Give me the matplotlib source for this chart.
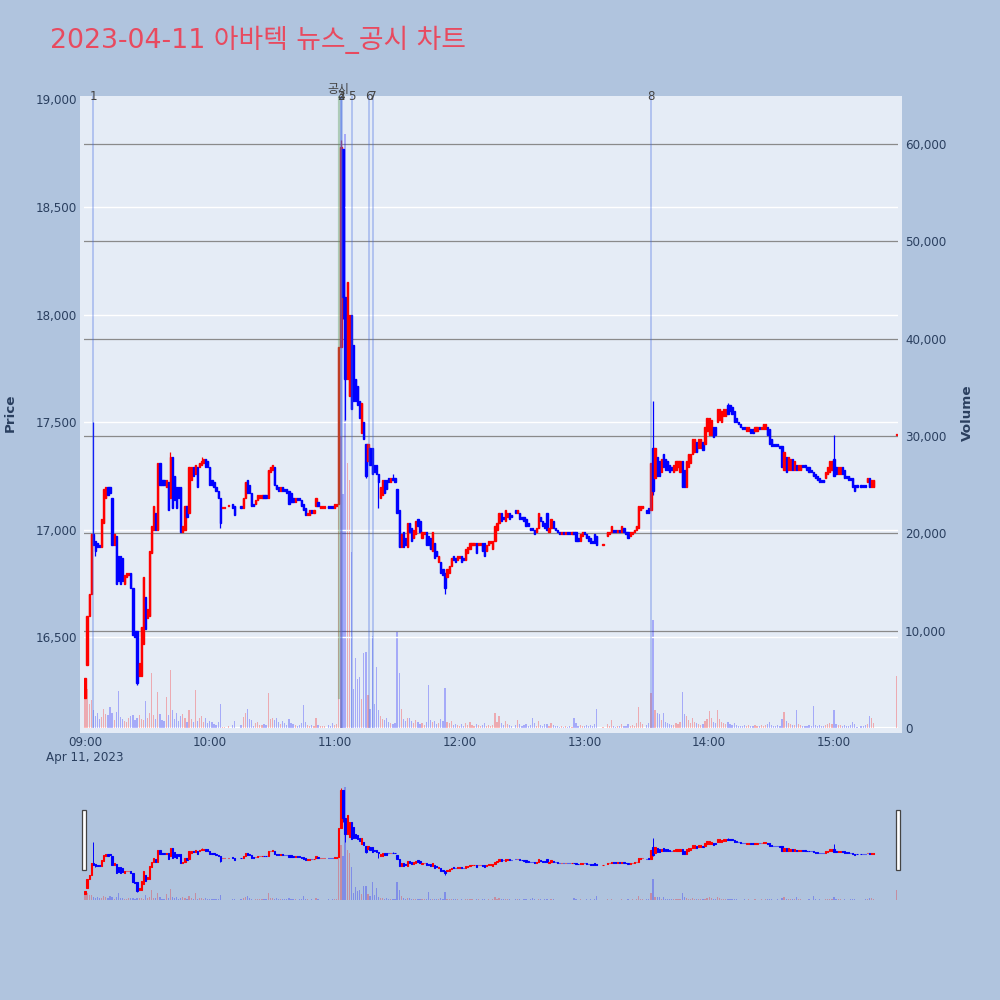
import matplotlib
matplotlib.use("Agg")
import matplotlib.pyplot as plt
from matplotlib.patches import Rectangle

plt.rcParams['font.family'] = ['DejaVu Sans', 'Noto Sans CJK KR']

title = "2023-04-11 아바텍 뉴스_공시 차트"
time_labels = ["09:00", "10:00", "11:00", "12:00", "13:00", "14:00", "15:00"]
price_ticks = [16500, 17000, 17500, 18000, 18500, 19000]
volume_ticks = [0, 10000, 20000, 30000, 40000, 50000, 60000]

# one entry per minute from 09:00 (index 0) to 15:30 (index 390), None = no trade
opens = [
    16220, 16370, 16600, 16700, 16980, 16950, 16940, 16930, 16920, 17030,
    17150, 17200, 17200, 17150, 16930, 16970, 16880, 16880, 16870, 16750,
    16780, 16790, 16800, 16730, 16530, 16530, 16320, 16320, 16470, 16690,
    16590, 16600, 16890, 17000, 17080, 17000, 17310, 17230, 17230, 17200,
    17220, 17150, 17340, 17250, 17200, 17200, 17200, 16990, 17000, 17110,
    17080, 17230, 17290, 17260, 17290, 17290, 17300, 17310, 17330, 17320,
    17290, 17230, 17220, 17200, 17180, 17150, 17100, 17100, None, 17110,
    None, 17120, 17110, None, None, 17110, 17100, 17150, 17230, 17210,
    17170, 17120, 17120, 17140, 17150, 17150, 17160, 17160, 17150, 17270,
    17280, 17290, 17210, 17200, 17180, 17200, 17190, 17190, 17180, 17170,
    17150, 17130, 17150, 17150, 17140, 17120, 17100, 17070, 17070, 17090,
    17080, 17110, 17130, 17100, 17100, 17100, None, 17110, 17110, 17110,
    17100, 17110, 17120, 17850, 18770, 18080, 17700, 17620, 18000, 17860,
    17700, 17670, 17600, 17450, 17500, 17400, 17320, 17380, 17380, 17300,
    17300, 17260, 17150, 17160, 17230, 17230, 17240, 17220, 17240, 17240,
    17190, 17090, 16920, 16990, 16960, 16920, 17030, 17010, 16960, 16980,
    17050, 17040, 16960, 16980, 16990, 16970, 16960, 16900, 16940, 16900,
    16850, 16850, 16820, 16800, 16780, 16800, 16830, 16880, 16870, 16860,
    16870, 16880, 16870, 16860, 16890, 16910, 16930, 16930, 16940, 16930,
    16930, 16940, 16940, 16900, 16930, 16940, 16910, 16950, 17000, 17030,
    17080, 17060, 17040, 17060, 17080, 17070, None, 17090, 17080, 17080,
    17060, 17060, 17050, 17030, 17010, 17010, 17000, 16990, 17010, 17060,
    17040, 17030, 17080, 16990, 17010, 17040, 17010, 17000, 16990, 16980,
    16990, 16980, 16990, 16990, 16980, 16990, 16990, 16960, 16950, 16970,
    16990, 16980, 16970, 16960, 16950, 16980, 16970, None, None, 16930,
    None, 16970, 16980, 16990, 17000, 17000, 16990, 17000, 16990, 17010,
    16990, 16990, 16970, 16980, 16990, 17000, 17010, 17090, 17100, None,
    17090, 17100, 17090, 17380, 17240, 17340, 17320, 17270, 17350, 17330,
    17320, 17300, 17290, 17270, 17280, 17290, 17270, 17320, 17280, 17200,
    17290, 17310, 17350, 17360, 17410, 17380, 17380, 17410, 17400, 17460,
    17440, 17440, 17480, 17480, 17500, 17510, 17500, 17530, 17530, 17580,
    17580, 17570, 17550, 17520, 17500, 17490, 17480, 17480, 17460, 17460,
    17470, 17470, 17460, 17460, 17480, 17470, 17470, 17470, 17480, 17470,
    17420, 17400, 17400, 17400, 17390, 17390, 17280, 17340, 17280, 17280,
    17330, 17280, 17300, 17280, 17280, 17300, 17300, 17290, 17290, 17280,
    17270, 17260, 17250, 17240, 17230, 17230, 17240, 17260, 17270, 17280,
    17330, 17290, 17260, 17260, 17290, 17280, 17250, 17250, 17240, 17240,
    17210, 17210, None, 17210, 17210, 17210, 17220, 17240, 17200, 17200,
    None, None, None, None, None, None, None, None, None, None,
    17440,
]
closes = [
    16310, 16600, 16700, 16980, 16930, 16900, 16920, 16920, 17050, 17190,
    17200, 17160, 17170, 16930, 16980, 16750, 16760, 16750, 16760, 16790,
    16800, 16800, 16730, 16510, 16500, 16290, 16380, 16550, 16780, 16540,
    16630, 16900, 17020, 17110, 17000, 17310, 17210, 17210, 17210, 17230,
    17090, 17340, 17100, 17140, 17100, 17150, 16990, 17020, 17110, 17060,
    17290, 17290, 17250, 17300, 17200, 17310, 17320, 17330, 17290, 17290,
    17210, 17210, 17200, 17180, 17150, 17030, 17100, 17100, None, 17110,
    None, 17100, 17070, None, None, 17100, 17150, 17220, 17170, 17170,
    17110, 17110, 17140, 17160, 17160, 17160, 17150, 17150, 17280, 17290,
    17300, 17210, 17190, 17180, 17200, 17180, 17180, 17170, 17120, 17130,
    17130, 17150, 17140, 17140, 17110, 17090, 17070, 17080, 17090, 17080,
    17090, 17150, 17110, 17110, 17110, 17110, None, 17100, 17100, 17100,
    17120, 17120, 17850, 18780, 18080, 17700, 18150, 18000, 17560, 17600,
    17600, 17580, 17520, 17590, 17420, 17250, 17400, 17300, 17260, 17270,
    17260, 17220, 17200, 17230, 17170, 17190, 17220, 17240, 17230, 17220,
    17080, 16920, 16980, 16920, 16930, 17030, 16990, 16950, 17000, 17040,
    17020, 16990, 16990, 16990, 16930, 16930, 16910, 16990, 16870, 16880,
    16880, 16800, 16790, 16730, 16820, 16830, 16870, 16860, 16850, 16880,
    16880, 16850, 16860, 16910, 16920, 16940, 16940, 16940, 16890, 16940,
    16940, 16900, 16880, 16930, 16950, 16950, 16950, 17020, 17030, 17080,
    17040, 17050, 17090, 17080, 17050, 17060, None, 17080, 17090, 17050,
    17050, 17040, 17020, 17020, 17000, 17000, 16980, 17010, 17080, 17040,
    17020, 17010, 17000, 17010, 17050, 17010, 17000, 16990, 16980, 16990,
    16980, 16990, 16980, 16980, 16990, 16980, 16950, 16950, 16980, 16990,
    16980, 16960, 16950, 16940, 16940, 16940, 16930, None, None, 16930,
    None, 16990, 16990, 17020, 16990, 16990, 17000, 16990, 17020, 16990,
    16980, 16960, 16990, 16990, 17000, 17020, 17110, 17110, 17110, None,
    17080, 17080, 17310, 17180, 17380, 17250, 17250, 17330, 17290, 17280,
    17280, 17270, 17280, 17300, 17320, 17320, 17320, 17200, 17200, 17320,
    17350, 17350, 17420, 17420, 17360, 17420, 17420, 17370, 17480, 17520,
    17520, 17510, 17430, 17440, 17560, 17560, 17550, 17560, 17560, 17540,
    17550, 17540, 17500, 17500, 17490, 17480, 17470, 17470, 17480, 17480,
    17450, 17450, 17480, 17480, 17470, 17480, 17490, 17490, 17440, 17400,
    17390, 17390, 17390, 17390, 17380, 17290, 17360, 17270, 17340, 17330,
    17280, 17320, 17280, 17300, 17300, 17290, 17290, 17280, 17270, 17270,
    17250, 17240, 17230, 17220, 17220, 17220, 17270, 17290, 17320, 17320,
    17250, 17260, 17290, 17290, 17260, 17240, 17240, 17230, 17230, 17200,
    17180, 17200, None, 17200, 17200, 17200, 17240, 17200, 17230, 17230,
    None, None, None, None, None, None, None, None, None, None,
    17440,
]
# wicks that reach beyond the candle body (minute index: price)
high_wicks = {4: 17500, 41: 17360, 56: 17340, 123: 18810, 148: 17260,
              273: 17600, 309: 17590, 360: 17440}
low_wicks = {5: 16880, 25: 16280, 65: 17010, 124: 17980, 125: 17510,
             135: 17240, 141: 17100, 173: 16700, 273: 17160}
volumes = [
    4100, 4000, 2500, 2900, 1800, 1200, 1500, 900, 1100, 2000,
    1400, 1300, 2200, 1500, 800, 1600, 3800, 1100, 900, 700,
    600, 1000, 1200, 1300, 800, 1000, 1300, 900, 800, 2800,
    1000, 1500, 5600, 1300, 900, 3700, 1400, 800, 700, 3200,
    1300, 6000, 1800, 900, 1500, 700, 1200, 1400, 1000, 600,
    1900, 900, 600, 3900, 700, 1000, 1200, 600, 1000, 500,
    700, 600, 400, 300, 600, 2500, 100, 100, None, 200,
    None, 300, 700, None, None, 300, 1100, 1500, 2000, 900,
    800, 200, 500, 600, 300, 300, 400, 300, 3600, 900,
    1000, 800, 1000, 600, 400, 700, 500, 300, 900, 500,
    400, 300, 200, 300, 500, 2400, 600, 300, 200, 300,
    200, 1000, 300, 200, 200, 200, None, 300, 200, 500,
    300, 400, 25500, 30000, 24000, 61000, 27200, 25500, 18100, 4000,
    7200, 5000, 5200, 3000, 7700, 7800, 3400, 2000, 9500, 2500,
    6300, 1800, 1200, 900, 800, 1000, 600, 500, 400, 500,
    9900, 5600, 2000, 900, 700, 1000, 1000, 700, 500, 800,
    600, 400, 500, 300, 600, 4400, 800, 600, 700, 400,
    500, 900, 700, 4100, 600, 500, 700, 300, 400, 300,
    200, 400, 200, 500, 300, 600, 300, 200, 400, 300,
    200, 300, 500, 200, 300, 200, 300, 1500, 600, 1200,
    500, 300, 700, 400, 300, 200, None, 300, 800, 400,
    200, 300, 400, 200, 300, 1000, 500, 200, 700, 300,
    200, 400, 400, 200, 500, 300, 200, 200, 100, 200,
    100, 200, 100, 200, 100, 1000, 500, 200, 300, 200,
    200, 300, 200, 300, 200, 400, 2000, None, None, 100,
    None, 400, 200, 800, 200, 100, 200, 200, 400, 200,
    200, 400, 200, 300, 200, 500, 2200, 600, 400, None,
    300, 500, 3600, 11100, 1800, 1500, 1400, 800, 1500, 600,
    500, 400, 300, 300, 500, 400, 600, 3700, 1400, 1200,
    800, 500, 1000, 600, 500, 400, 300, 400, 700, 900,
    1700, 1000, 600, 500, 1800, 900, 600, 500, 400, 600,
    400, 300, 500, 300, 200, 200, 200, 300, 200, 300,
    200, 200, 300, 200, 200, 300, 200, 300, 400, 600,
    300, 200, 200, 300, 200, 900, 1600, 700, 500, 400,
    300, 300, 1800, 400, 300, 200, 200, 200, 300, 200,
    2300, 300, 200, 300, 200, 200, 300, 400, 500, 400,
    1800, 400, 300, 300, 200, 300, 200, 200, 300, 600,
    400, 100, None, 200, 200, 300, 400, 1200, 1000, 500,
    None, None, None, None, None, None, None, None, None, None,
    5300,
]
# news / disclosure markers: (label, minute index)
news_labels = ["1", "2", "3", "4", "5", "6", "7", "8"]
news_minutes = [4, 123.1, 123.1, 123.3, 128.4, 136.3, 138.2, 272.1]
disclosure_label = "공시"
disclosure_minute = 122
day_low = 16220

up_col = "#ff0000"
down_col = "#0000ff"
plot_bg = "#E5ECF6"
text_col = "#2a3f5f"
price_lim = (16079, 19016)
vol_lim = (0, 64930)
x_lim = (-0.5, 390.75)


def draw_candles(axp, axv, body_w, edge_lw, wick_lw, vol_w):
    xs, bots, hts, cols, vols = [], [], [], [], []
    for i, (o, c, v) in enumerate(zip(opens, closes, volumes)):
        if o is None:
            continue
        col = up_col if c >= o else down_col
        hi = max(o, c, high_wicks.get(i, 0))
        lo = min(o, c, low_wicks.get(i, 10 ** 6))
        axp.vlines(i, lo, hi, color=col, lw=wick_lw, zorder=3)
        xs.append(i)
        bots.append(min(o, c))
        hts.append(max(abs(c - o), 6))
        cols.append(col)
        vols.append(v)
    axp.bar(xs, hts, bottom=bots, width=body_w, color=cols, edgecolor=cols,
            linewidth=edge_lw, zorder=4)
    axv.bar(xs, vols, width=vol_w, color=cols, alpha=0.28, linewidth=0, zorder=2)


fig = plt.figure(figsize=(10, 10), dpi=100)
fig.patch.set_facecolor("#B0C4DE")
fig.add_artist(Rectangle((0.080, 0.267), 0.822, 0.637, transform=fig.transFigure,
                         facecolor=plot_bg, edgecolor="none", zorder=-5))

ax = fig.add_axes([0.084, 0.272, 0.814, 0.632])
ax2 = ax.twinx()
ax.set_zorder(2)
ax2.set_zorder(1)
ax.patch.set_visible(False)
ax2.patch.set_facecolor(plot_bg)

draw_candles(ax, ax2, 0.6, 1.0, 0.9, 0.6)

ax.set_xlim(*x_lim)
ax.set_ylim(*price_lim)
ax2.set_ylim(*vol_lim)

for p in price_ticks[:-1]:
    ax.axhline(p, color="white", lw=1.0, zorder=0)
for v in volume_ticks[1:]:
    ax2.axhline(v, color="#8a8a8a", lw=0.9, zorder=1)
ax2.axhline(0, color="white", lw=1.6, zorder=1)

ax.set_xticks(range(0, 361, 60))
ax.set_xticklabels(time_labels)
ax.set_yticks(price_ticks)
ax.set_yticklabels([f"{p:,}" for p in price_ticks])
ax2.set_yticks(volume_ticks)
ax2.set_yticklabels([f"{v:,}" for v in volume_ticks])
for a in (ax, ax2):
    a.tick_params(length=0, labelsize=8.6, labelcolor=text_col)
    for s in a.spines.values():
        s.set_visible(False)
ax.tick_params(axis="y", pad=5)
ax.tick_params(axis="x", pad=6)
ax2.tick_params(axis="y", pad=5)

fig.text(0.085, 0.242, "Apr 11, 2023", ha="center", va="center",
         fontsize=8.6, color=text_col)
fig.text(0.010, 0.587, "Price", rotation=90, ha="center", va="center",
         fontsize=9.7, fontweight="bold", color=text_col)
fig.text(0.967, 0.587, "Volume", rotation=90, ha="center", va="center",
         fontsize=9.7, fontweight="bold", color=text_col)

# news lines
for lab, m in zip(news_labels, news_minutes):
    ax.axvline(m, color="royalblue", alpha=0.4, lw=1.1, zorder=6)
    ax.text(m, 0.999, lab, transform=ax.get_xaxis_transform(), ha="center",
            va="center", fontsize=8.6, color="#444444", clip_on=False, zorder=7)
# disclosure line
ax.plot([disclosure_minute, disclosure_minute], [day_low, price_lim[1]],
        color="#5a9a5a", alpha=0.4, lw=1.6, zorder=6)
ax.text(disclosure_minute, 1.010, disclosure_label, transform=ax.get_xaxis_transform(),
        ha="center", va="center", fontsize=8.6, color="#444444", clip_on=False, zorder=7)

fig.text(0.050, 0.960, title, ha="left", va="center", fontsize=19.3, color="#e84a5f")

# range slider
axs = fig.add_axes([0.084, 0.100, 0.814, 0.120])
axs2 = axs.twinx()
axs.set_zorder(2)
axs2.set_zorder(1)
axs.patch.set_visible(False)
axs2.patch.set_facecolor(plot_bg)
draw_candles(axs, axs2, 0.6, 0.8, 0.7, 0.6)
axs.set_xlim(*x_lim)
axs.set_ylim(*price_lim)
axs2.set_ylim(*vol_lim)
for a in (axs, axs2):
    a.set_xticks([])
    a.set_yticks([])
    for s in a.spines.values():
        s.set_visible(False)

for hx in (0.0815, 0.8960):
    fig.add_artist(Rectangle((hx, 0.130), 0.0042, 0.060, transform=fig.transFigure,
                             facecolor="white", edgecolor="#444444", lw=0.9, zorder=10))

fig.savefig("out.png", dpi=100, facecolor=fig.get_facecolor())
